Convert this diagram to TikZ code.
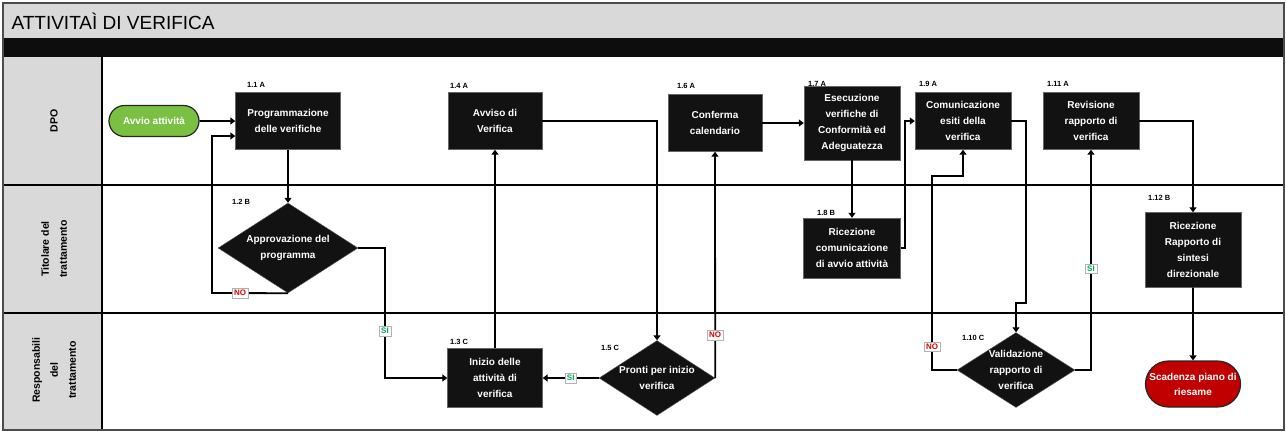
\documentclass[tikz,border=0pt]{standalone}
\usepackage{fontspec}
\setmainfont{Liberation Sans}
\usetikzlibrary{shapes.geometric, shapes.misc, arrows.meta}

\definecolor{verdeavvio}{HTML}{7AC143}
\definecolor{rossofine}{HTML}{C00000}
\definecolor{grigiocorsia}{HTML}{D9D9D9}
\definecolor{verdesi}{HTML}{00A650}

\tikzset{
  attivita/.style={draw=black!60, fill=black!93, text=white, align=center,
    font=\fontsize{10}{16}\selectfont\bfseries, inner sep=1pt},
  decisione/.style={diamond, draw=black!60, fill=black!93, inner sep=0pt},
  testodec/.style={text=white, align=center, font=\fontsize{10}{16}\selectfont\bfseries},
  terminale/.style={rounded rectangle, draw=black!85, line width=1.2pt, text=white,
    align=center, font=\fontsize{10}{15}\selectfont\bfseries, inner xsep=1pt},
  codice/.style={font=\fontsize{7.5}{8}\selectfont\bfseries, anchor=west, inner sep=0pt},
  flusso/.style={line width=1.8pt, -{Triangle[length=5pt,width=7pt]}},
  esitono/.style={draw=black!30, line width=0.4pt, fill=white, text=red!85!black,
    font=\fontsize{8}{9}\selectfont\bfseries, inner sep=2pt},
  esitosi/.style={esitono, text=verdesi},
  corsia/.style={rotate=90, align=center, font=\fontsize{10.5}{18}\selectfont\bfseries},
}

\begin{document}
\begin{tikzpicture}[x=1pt, y=-1pt]
\useasboundingbox (0,0) rectangle (1286,432);

% intestazione e corsie
\fill[grigiocorsia] (3,3) rectangle (1284,38);
\node[anchor=west, font=\fontsize{19}{22}\selectfont] (titolo) at (8,21) {ATTIVITAÌ DI VERIFICA};
\fill[black!95] (3,38) rectangle (1284,57);
\fill[grigiocorsia] (3,57) rectangle (102,430);
\draw[line width=2pt] (3,185) -- (1284,185) (3,313) -- (1284,313);
\draw[line width=2pt] (102,57) -- (102,430);
\draw[line width=1.2pt, black!70] (3,3) rectangle (1284,430);

\node[corsia] (dpo) at (54,121) {DPO};
\node[corsia] (titolare) at (54,249) {Titolare del\\trattamento};
\node[corsia] (responsabili) at (54,370) {Responsabili\\del\\trattamento};

% attivita
\node[terminale, fill=verdeavvio, minimum width=92pt, minimum height=31pt] (avvio) at (154,121) {Avvio attività};
\node[attivita, minimum width=105pt, minimum height=57pt] (p11) at (288,121) {Programmazione\\delle verifiche};
\node[decisione, minimum width=140pt, minimum height=90pt,
  label={[testodec]center:Approvazione del\\programma}] (d12) at (288,248) {};
\node[attivita, minimum width=94pt, minimum height=57pt] (p14) at (495,121) {Avviso di\\Verifica};
\node[attivita, minimum width=95pt, minimum height=59pt] (p13) at (495,378) {Inizio delle\\attività di\\verifica};
\node[decisione, minimum width=116pt, minimum height=75pt,
  label={[testodec]center:Pronti per inizio\\verifica}] (d15) at (657,378) {};
\node[attivita, minimum width=94pt, minimum height=57pt] (p16) at (715,123) {Conferma\\calendario};
\node[attivita, minimum width=96pt, minimum height=74pt] (p17) at (852,123) {Esecuzione\\verifiche di\\Conformità ed\\Adeguatezza};
\node[attivita, minimum width=97pt, minimum height=60pt] (p18) at (852,248) {Ricezione\\comunicazione\\di avvio attività};
\node[attivita, minimum width=96pt, minimum height=57pt] (p19) at (963,121) {Comunicazione\\esiti della\\verifica};
\node[decisione, minimum width=118pt, minimum height=75pt,
  label={[testodec]center:Validazione\\rapporto di\\verifica}] (d110) at (1016,370) {};
\node[attivita, minimum width=96pt, minimum height=57pt] (p111) at (1091,121) {Revisione\\rapporto di\\verifica};
\node[attivita, minimum width=96pt, minimum height=75pt] (p112) at (1193,250) {Ricezione\\Rapporto di\\sintesi\\direzionale};
\node[terminale, fill=rossofine, minimum width=94pt, minimum height=46pt] (fine) at (1193,384) {Scadenza piano di\\riesame};

% codici
\node[codice] (c11) at (247,85) {1.1 A};
\node[codice] (c12) at (232,202) {1.2 B};
\node[codice] (c13) at (450,342) {1.3 C};
\node[codice] (c14) at (450,86) {1.4 A};
\node[codice] (c15) at (601,348) {1.5 C};
\node[codice] (c16) at (677,86) {1.6 A};
\node[codice] (c17) at (808,84) {1.7 A};
\node[codice] (c18) at (817,213) {1.8 B};
\node[codice] (c19) at (919,84) {1.9 A};
\node[codice] (c110) at (962,338) {1.10 C};
\node[codice] (c111) at (1047,84) {1.11 A};
\node[codice] (c112) at (1148,198) {1.12 B};

% flussi
\draw[flusso] (avvio) -- (p11);
\draw[flusso] (p11) -- (d12);
\draw[flusso] (d12.south) -- node[esitono, pos=0.63]{NO} (212,293) |- ([yshift=-15pt]p11.west);
\draw[flusso] (d12.east) -- (385,248) |- node[esitosi, pos=0.32]{SI} (p13.west);
\draw[flusso] (p13) -- (p14);
\draw[flusso, line width=1.3pt] (p14.east) -| (d15.north);
\draw[flusso] (d15.west) -- node[esitosi]{SI} (p13.east);
\draw[flusso] (d15.east) -- node[esitono, pos=0.19]{NO} (p16.south);
\draw[flusso] (p16) -- (p17);
\draw[flusso] (p17) -- (p18);
\draw[flusso] (p18.east) -- (905,248) |- (p19.west);
\draw[flusso] (p19.east) -| (1026,303) -| (d110.north);
\draw[flusso] (d110.west) -| node[esitono, pos=0.56]{NO} (932,176) -| (p19.south);
\draw[flusso] (d110.east) -| node[esitosi, pos=0.73]{SI} (p111.south);
\draw[flusso] (p111.east) -| (p112.north);
\draw[flusso] (p112) -- (fine);
\end{tikzpicture}
\end{document}
